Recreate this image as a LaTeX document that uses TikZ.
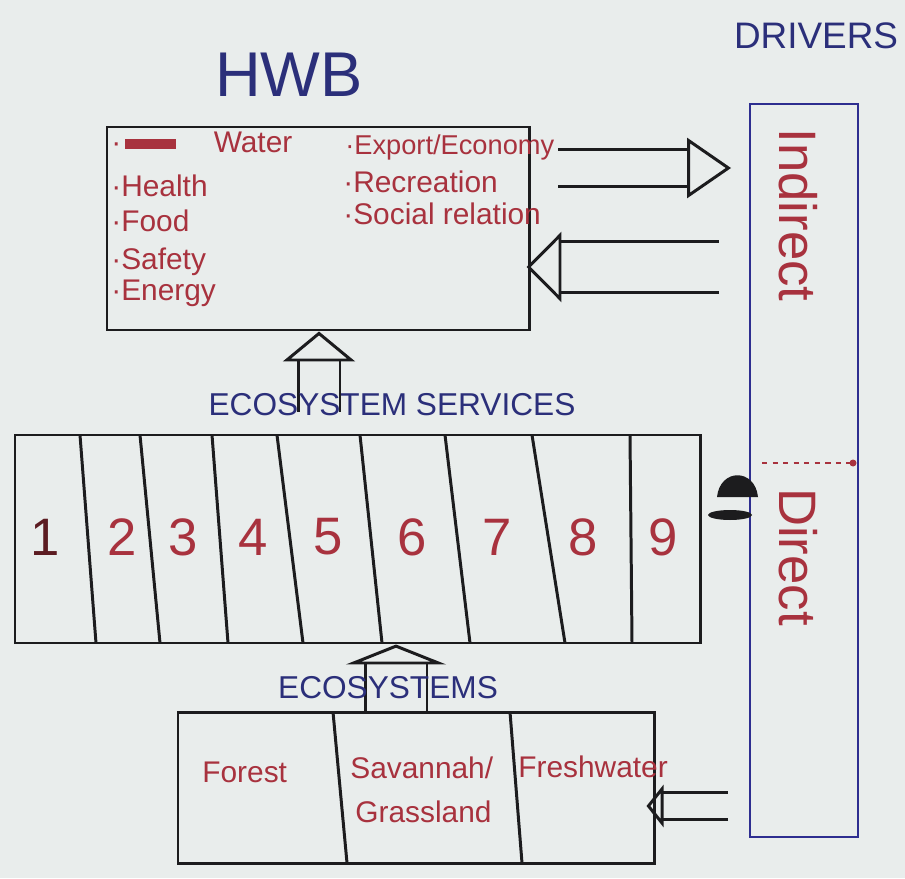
\documentclass[tikz,border=0pt]{standalone}
\usepackage{fontspec}
\setmainfont{Liberation Sans}
\usetikzlibrary{arrows.meta,positioning,fit}
\definecolor{BoardWhite}{HTML}{E9EDEC}
\definecolor{InkBlack}{HTML}{1C1C1E}
\definecolor{InkRed}{HTML}{A8323E}
\definecolor{InkBlue}{HTML}{2B2F7A}
\definecolor{InkNavy}{HTML}{2E2E90}
\colorlet{InkMaroon}{InkRed!55!black}

\tikzset{
  box/.style={draw=InkBlack,line width=1.7pt,inner sep=0pt},
  divider/.style={InkBlack,line width=1.7pt},
  item/.style={text=InkRed,anchor=base west,inner sep=0pt,font=\fontsize{17}{20}\selectfont},
  heading/.style={text=InkBlue,inner sep=0pt,font=\fontsize{#1}{#1}\selectfont},
  num/.style={inner sep=0pt,font=\fontsize{30}{30}\selectfont},
  bigarrow/.style={draw=InkBlack,line width=1.7pt,double=BoardWhite,double distance=#1},
  head/.style={-{Triangle[open,line width=1.7pt,#1]}},
}

\begin{document}
\begin{tikzpicture}[x=0.02cm,y=-0.02cm]
  % board
  \fill[BoardWhite] (0,0) rectangle (905,878);
  \useasboundingbox (0,0) rectangle (905,878);

  % HWB box
  \node[box,fit={(107,127) (529,330)}] (hwb) {};
  \node[heading=36] (hwbt) at (289,75) {HWB};
  \node[item] (water)  at (111,153) {·\hspace{0.08cm}\rule[0.12em]{1.02cm}{0.2cm}\hspace{0.75cm}Water};
  \node[item] (health) at (111,197) {·Health};
  \node[item] (food)   at (111,232) {·Food};
  \node[item] (safety) at (111,270) {·Safety};
  \node[item] (energy) at (111,300) {·Energy};
  \node[item,font=\fontsize{15.5}{18}\selectfont] (export) at (345,155) {·Export/Economy};
  \node[item] (recr)   at (343,193) {·Recreation};
  \node[item] (social) at (343,225) {·Social relation};

  % Drivers bar
  \node[draw=InkNavy,line width=1.1pt,inner sep=0pt,fit={(750,104) (858,837)}] (drv) {};
  \node[heading=21] (drvt) at (816,36) {DRIVERS};
  \node[text=InkRed,rotate=-90,inner sep=0pt,font=\fontsize{30}{30}\selectfont] (indirect) at (798,215) {Indirect};
  \node[text=InkRed,rotate=-90,inner sep=0pt,font=\fontsize{30}{30}\selectfont] (direct) at (798,557) {Direct};
  \draw[InkRed,line width=1.5pt,dashed] (762,463) -- (853,463);
  \fill[InkRed] (853,463) circle (0.07cm);

  % Ecosystem services
  \node[box,fit={(15,435) (700,643)}] (es) {};
  \foreach \xt/\xb in {80/96,140/160,212/228,277/303,360/382,445/470,532/565,630/632}
    \draw[divider] (\xt,435) -- (\xb,643);
  \foreach \n/\x/\c in {1/45/InkMaroon,2/122/InkRed,3/183/InkRed,4/253/InkRed,5/328/InkRed,
                        6/412/InkRed,7/497/InkRed,8/583/InkRed,9/663/InkRed}
    \node[num,text=\c] (s\n) at (\x,537) {\n};

  % Ecosystems
  \node[box,fit={(178,712) (654,863)}] (eco) {};
  \draw[divider] (333,712) -- (347,863);
  \draw[divider] (510,712) -- (522,863);
  \node[item] (forest) at (202,782) {Forest};
  \node[item] (savanna) at (350,778) {Savannah/};
  \node[item] (grass) at (355,822) {Grassland};
  \node[item] (fresh) at (518,777) {Freshwater};

  % Arrows
  \coordinate (outY) at (0,168);
  \coordinate (inY) at (0,267);
  \coordinate (lowY) at (0,806);
  \coordinate (esX) at (319,0);
  \coordinate (ecoX) at (396,0);
  \draw[bigarrow=0.68cm,head={length=0.88cm,width=1.2cm},shorten <=0.56cm,shorten >=0.36cm]
    (hwb.east |- outY) -- (drv.west |- outY);
  \draw[bigarrow=0.98cm,head={length=0.7cm,width=1.4cm},shorten <=0.6cm,shorten >=-0.08cm]
    (drv.west |- inY) -- (hwb.east |- inY);
  \draw[bigarrow=0.78cm,head={length=0.6cm,width=1.44cm},shorten <=0.44cm]
    (es.north -| esX) -- (hwb.south -| esX);
  \draw[bigarrow=1.18cm,head={length=0.4cm,width=2cm}]
    (eco.north -| ecoX) -- (es.south -| ecoX);
  \draw[bigarrow=0.48cm,head={length=0.34cm,width=0.84cm},shorten <=0.42cm,shorten >=-0.18cm]
    (drv.west |- lowY) -- (eco.east |- lowY);

  % smudge by the bar
  \fill[InkBlack] (717,497) .. controls (720,468) and (755,468) .. (758,497) -- cycle;
  \fill[InkBlack] (730,515) ellipse (0.44cm and 0.1cm);

  % labels over the arrows
  \node[heading=18] (estxt) at (392,405) {ECOSYSTEM SERVICES};
  \node[heading=18] (ecotxt) at (388,688) {ECOSYSTEMS};
\end{tikzpicture}
\end{document}
